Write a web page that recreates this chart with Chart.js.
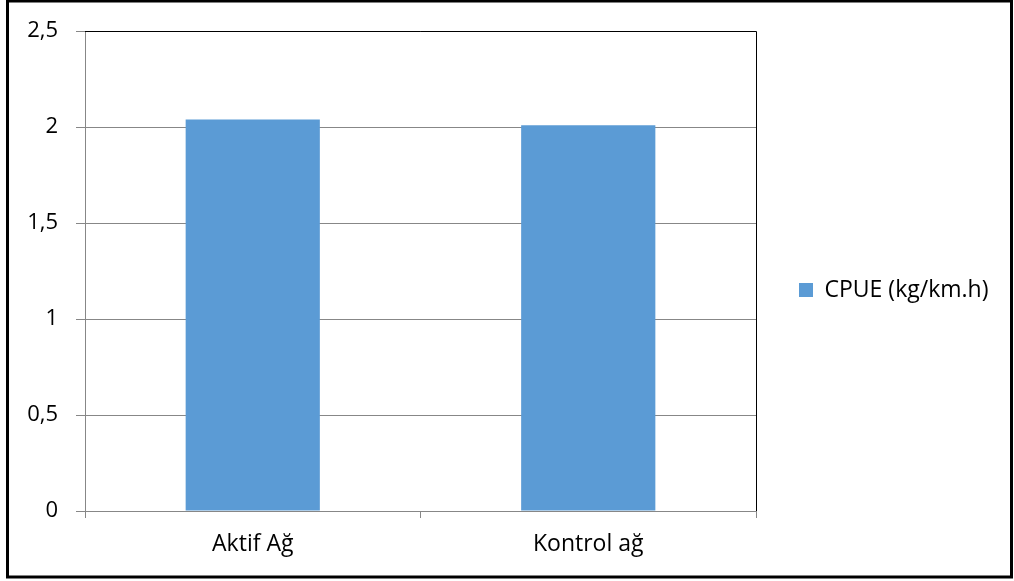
<!DOCTYPE html>
<html>
<head>
<meta charset="utf-8">
<script src="https://cdn.jsdelivr.net/npm/chart.js@4.4.1/dist/chart.umd.min.js"></script>
<style>
  html, body { margin: 0; padding: 0; background: #ffffff; }
  #wrap { width: 1014px; height: 581px; position: relative; }
</style>
</head>
<body>
<div id="wrap"><canvas id="chart" width="1014" height="581"></canvas></div>
<script>
// Catch per unit effort by net type
const categories = ['Aktif Ağ', 'Kontrol ağ'];
const cpueValues = [2.04, 2.01];
const seriesLabel = 'CPUE (kg/km.h)';
const yTickValues = [0, 0.5, 1, 1.5, 2, 2.5];

const FAMILY = '"Open Sans", sans-serif';
const GRID = '#878787';
const LEGEND_WIDTH = 258;
const LEGEND_BOTTOM = 549;

// Black frame around the whole figure plus the dark top/right edge of the plot area
const framePlugin = {
  id: 'frame',
  afterDraw(chart) {
    const { ctx, chartArea: a } = chart;
    ctx.save();
    ctx.strokeStyle = '#000000';
    ctx.lineWidth = 1;
    ctx.beginPath();
    ctx.moveTo(a.left, Math.round(a.top) + 0.5);
    ctx.lineTo(Math.round(a.right) + 0.5, Math.round(a.top) + 0.5);
    ctx.lineTo(Math.round(a.right) + 0.5, a.bottom);
    ctx.stroke();
    ctx.lineWidth = 3;
    ctx.strokeRect(7.5, 1, 1004, 576);
    ctx.restore();
  }
};

// Fixed-width side legend, vertically centred a little above the canvas middle
const legendBoxPlugin = {
  id: 'legendBox',
  beforeUpdate(chart) {
    const legend = chart.legend;
    if (legend && !legend._fixedWidth) {
      const fit = legend.fit.bind(legend);
      legend.fit = function () { fit(); this.width = LEGEND_WIDTH; };
      legend._fixedWidth = true;
    }
  },
  afterLayout(chart) {
    const legend = chart.legend;
    if (legend) {
      legend.bottom = LEGEND_BOTTOM;
      legend.height = legend.bottom - legend.top;
    }
  }
};

new Chart(document.getElementById('chart'), {
  type: 'bar',
  data: {
    labels: categories,
    datasets: [{
      label: seriesLabel,
      data: cpueValues,
      backgroundColor: '#5B9BD5',
      borderWidth: 0,
      barPercentage: 0.4,
      categoryPercentage: 1.0
    }]
  },
  options: {
    responsive: false,
    animation: false,
    devicePixelRatio: 1,
    layout: { padding: { top: 31, right: 0, bottom: 6, left: 0 } },
    plugins: {
      tooltip: { enabled: false },
      legend: {
        position: 'right',
        align: 'center',
        labels: {
          boxWidth: 14,
          boxHeight: 14,
          color: '#000000',
          font: { family: FAMILY, size: 23 },
          padding: 43
        }
      }
    },
    scales: {
      x: {
        grid: {
          offset: true,
          drawOnChartArea: false,
          drawTicks: true,
          tickLength: 7,
          color: GRID
        },
        border: { display: true, color: GRID },
        ticks: { color: '#000000', font: { family: FAMILY, size: 23 }, padding: 13 },
        afterFit(scale) { scale.height = 64; }
      },
      y: {
        min: 0,
        max: 2.5,
        grid: { color: GRID, tickLength: 9, drawTicks: true },
        border: { display: true, color: GRID },
        afterBuildTicks(scale) { scale.ticks = yTickValues.map(v => ({ value: v })); },
        ticks: {
          color: '#000000',
          font: { family: FAMILY, size: 22 },
          padding: 18,
          callback: v => String(v).replace('.', ',')
        },
        afterFit(scale) { scale.width = 85; }
      }
    }
  },
  plugins: [framePlugin, legendBoxPlugin]
});
</script>
</body>
</html>
